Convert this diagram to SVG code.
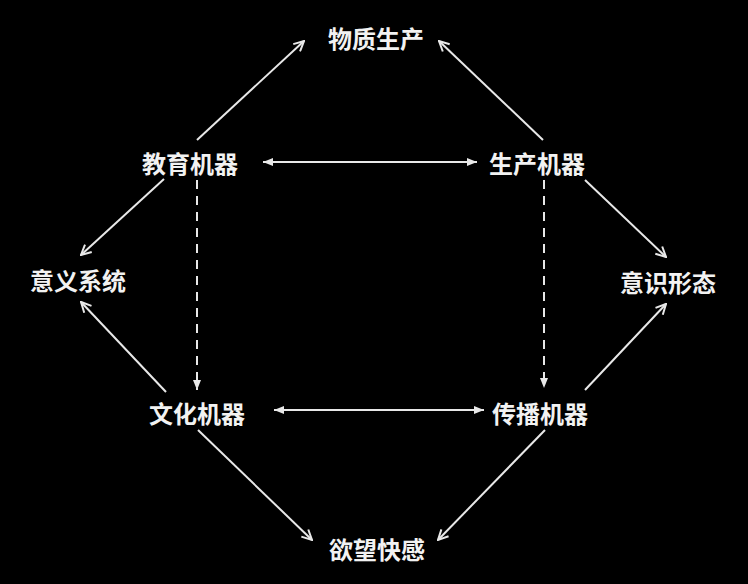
<svg xmlns="http://www.w3.org/2000/svg" width="748" height="584" viewBox="0 0 748 584">
<defs>
<style>
.t{font-family:"Noto Sans CJK SC","Noto Sans",sans-serif;font-size:24px;font-weight:bold;fill:#f2f2f2;text-anchor:middle;dominant-baseline:central}
.l{stroke:#e8e8e8;stroke-width:2;fill:none}
.d{stroke:#e8e8e8;stroke-width:2;fill:none;stroke-dasharray:9 7}
</style>
<marker id="ch" viewBox="0 0 12 12" refX="11" refY="6" markerWidth="12" markerHeight="12" markerUnits="userSpaceOnUse" orient="auto">
<path d="M1,1 L11,6 L1,11" fill="none" stroke="#e8e8e8" stroke-width="2"/>
</marker>
<marker id="tr" viewBox="0 0 10 10" refX="10" refY="5" markerWidth="10" markerHeight="10" markerUnits="userSpaceOnUse" orient="auto-start-reverse">
<path d="M0,1 L10,5 L0,9 Z" fill="#e8e8e8"/>
</marker>
</defs>
<rect width="748" height="584" fill="#000"/>
<g id="connectors">
<line class="l" x1="197" y1="140" x2="304" y2="41" marker-end="url(#ch)"/>
<line class="l" x1="543" y1="140" x2="439" y2="41" marker-end="url(#ch)"/>
<line class="l" x1="263" y1="162" x2="477" y2="162" marker-start="url(#tr)" marker-end="url(#tr)"/>
<line class="l" x1="164" y1="179" x2="81" y2="255" marker-end="url(#ch)"/>
<line class="l" x1="166" y1="392" x2="81" y2="302" marker-end="url(#ch)"/>
<line class="l" x1="585" y1="180" x2="666" y2="257" marker-end="url(#ch)"/>
<line class="l" x1="585" y1="390" x2="666" y2="304" marker-end="url(#ch)"/>
<line class="l" x1="274" y1="410" x2="484" y2="410" marker-start="url(#tr)" marker-end="url(#tr)"/>
<line class="d" x1="197" y1="180" x2="197" y2="390" marker-end="url(#tr)"/>
<line class="d" x1="544" y1="180" x2="544" y2="388" marker-end="url(#tr)"/>
<line class="l" x1="198" y1="430" x2="312" y2="540" marker-end="url(#ch)"/>
<line class="l" x1="545" y1="430" x2="438" y2="540" marker-end="url(#ch)"/>
</g>
<g id="n_wuzhi"><text class="t" x="376" y="37">物质生产</text></g>
<g id="n_jiaoyu"><text class="t" x="190" y="162">教育机器</text></g>
<g id="n_shengchan"><text class="t" x="537" y="162">生产机器</text></g>
<g id="n_yiyi"><text class="t" x="78" y="279">意义系统</text></g>
<g id="n_yishi"><text class="t" x="668" y="281">意识形态</text></g>
<g id="n_wenhua"><text class="t" x="197" y="412">文化机器</text></g>
<g id="n_chuanbo"><text class="t" x="540" y="412">传播机器</text></g>
<g id="n_yuwang"><text class="t" x="377" y="548">欲望快感</text></g>
</svg>
